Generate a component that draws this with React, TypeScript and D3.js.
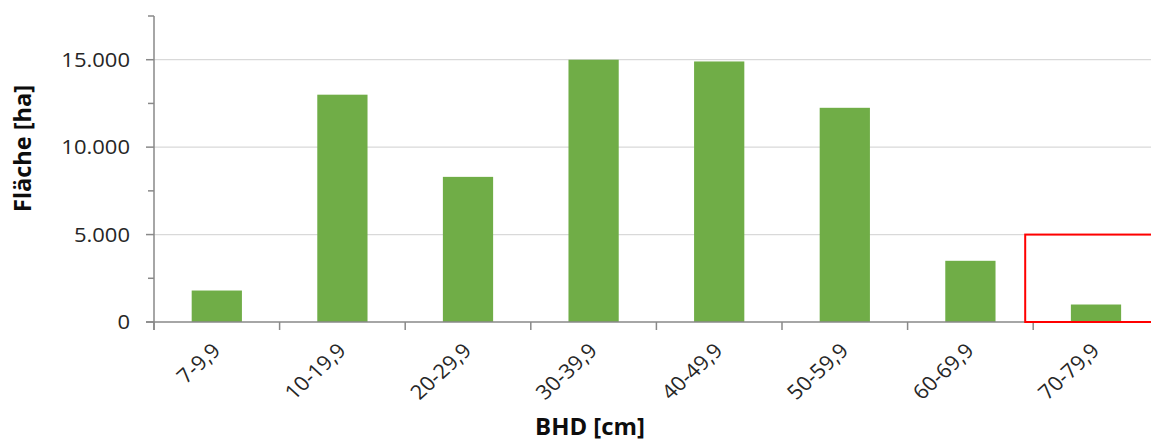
import React from "react";
import * as d3 from "d3";

const categories = ["7-9,9", "10-19,9", "20-29,9", "30-39,9", "40-49,9", "50-59,9", "60-69,9", "70-79,9"];
const values = [1800, 13000, 8300, 15000, 14900, 12250, 3500, 1000];
const majorTicks = [0, 5000, 10000, 15000];
const minorTicks = [2500, 7500, 12500, 17500];
const highlightCategory = "70-79,9";
const highlightRange = [0, 5000];

const W = 1151;
const H = 441;
const FONT = "'Open Sans', 'DejaVu Sans', sans-serif";
const SX = 1.1;

export default function App() {
  const x0 = 154;
  const stepPx = 125.6;
  const x = d3
    .scaleBand<string>()
    .domain(categories)
    .range([x0, x0 + stepPx * categories.length])
    .paddingInner(0.6)
    .paddingOuter(0.3);
  const y = d3.scaleLinear().domain([0, 17500]).range([322, 16]);
  const step = x.step();
  const bw = x.bandwidth();
  const off = (step - bw) / 2;
  const loc = d3.formatLocale({ decimal: ",", thousands: ".", grouping: [3], currency: ["", "€"] });
  const fmt = loc.format(",");
  const axisColor = "#898989";
  const gridColor = "#d9d9d9";

  const boundaries = categories.map((c) => (x(c) as number) - off);
  const hx = (x(highlightCategory) as number) - off - 8;

  return (
    <svg width={W} height={H} style={{ position: "absolute", left: 0, top: 0, background: "#fff" }}>
      {majorTicks.filter((t) => t > 0).map((t) => (
        <line key={"g" + t} x1={x0} x2={W} y1={y(t)} y2={y(t)} stroke={gridColor} strokeWidth={1.3} />
      ))}
      {categories.map((c, i) => (
        <rect key={c} x={x(c)} y={y(values[i])} width={bw} height={y(0) - y(values[i])} fill="#70AD47" />
      ))}
      <line x1={x0} x2={x0} y1={y(17500)} y2={y(0) + 8} stroke={axisColor} strokeWidth={1.5} />
      {majorTicks.map((t) => (
        <line key={"mt" + t} x1={x0 - 8} x2={x0} y1={y(t)} y2={y(t)} stroke={axisColor} strokeWidth={1.5} />
      ))}
      {minorTicks.map((t) => (
        <line key={"nt" + t} x1={x0 - 6} x2={x0} y1={y(t)} y2={y(t)} stroke={axisColor} strokeWidth={1.5} />
      ))}
      {majorTicks.map((t) => (
        <text key={"tl" + t} transform={`translate(130 ${y(t)}) scale(${SX} 1)`} dy="0.36em" textAnchor="end" fontFamily={FONT} fontSize={20} fill="#262626">
          {fmt(t)}
        </text>
      ))}
      <line x1={x0 - 8} x2={W} y1={y(0)} y2={y(0)} stroke={axisColor} strokeWidth={1.5} />
      {boundaries.map((b, i) => (
        <line key={"xt" + i} x1={b} x2={b} y1={y(0)} y2={y(0) + 8} stroke={axisColor} strokeWidth={1.5} />
      ))}
      {categories.map((c) => {
        const cx = (x(c) as number) + bw / 2 + 5;
        const cy = 352;
        return (
          <text key={"xl" + c} transform={`translate(${cx} ${cy}) scale(${SX} 1) rotate(-45)`} textAnchor="end" fontFamily={FONT} fontSize={20} fill="#262626">
            {c}
          </text>
        );
      })}
      <text transform={`translate(590 435) scale(1.04 1)`} textAnchor="middle" fontFamily={FONT} fontWeight="bold" fontSize={23} fill="#0d0d0d">
        BHD [cm]
      </text>
      <text transform={`translate(31 ${(85 + 212) / 2}) rotate(-90)`} textAnchor="middle" fontFamily={FONT} fontWeight="bold" fontSize={23.5} fill="#0d0d0d">
        Fläche [ha]
      </text>
      <rect x={hx} y={y(highlightRange[1])} width={W - hx + 10} height={y(highlightRange[0]) - y(highlightRange[1])} fill="none" stroke="#ff0000" strokeWidth={2} />
    </svg>
  );
}
